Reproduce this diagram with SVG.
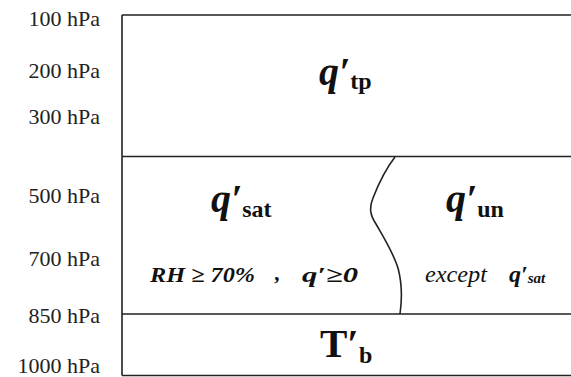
<svg xmlns="http://www.w3.org/2000/svg" width="571" height="377" viewBox="0 0 571 377" font-family="Liberation Serif">
<rect width="571" height="377" fill="#fff"/>
<g id="axis" fill="#222">
<text font-family="Liberation Serif" font-size="22" text-anchor="end" x="100" y="26">100 hPa</text>
<text font-family="Liberation Serif" font-size="22" text-anchor="end" x="100" y="78">200 hPa</text>
<text font-family="Liberation Serif" font-size="22" text-anchor="end" x="100" y="124">300 hPa</text>
<text font-family="Liberation Serif" font-size="22" text-anchor="end" x="100" y="203">500 hPa</text>
<text font-family="Liberation Serif" font-size="22" text-anchor="end" x="100" y="266">700 hPa</text>
<text font-family="Liberation Serif" font-size="22" text-anchor="end" x="100" y="323">850 hPa</text>
<text font-family="Liberation Serif" font-size="22" text-anchor="end" x="100" y="373">1000 hPa</text>
</g>
<g id="connectors" stroke="#222" stroke-width="1.6" fill="none">
<path d="M122,15 H571 M122,156.5 H571 M122,314 H571 M122,375.5 H571 M122,15 V375.5"/>
<path d="M395,157 C388,166 380,180 373,198 C369,208 370,215 376,224 C384,238 393,252 398,268 C402,283 402,300 400,314"/>
</g>
<g id="tp" fill="#111">
<text font-family="Liberation Serif" font-weight="bold" x="319" y="85"><tspan font-style="italic" font-size="40">q′</tspan><tspan font-size="24" dy="4">tp</tspan></text>
</g>
<g id="sat" fill="#111">
<text font-family="Liberation Serif" font-weight="bold" x="211" y="212"><tspan font-style="italic" font-size="40">q′</tspan><tspan font-size="24" dy="5">sat</tspan></text>
<text font-family="Liberation Serif" font-weight="bold" font-style="italic" font-size="22" x="150" y="282" textLength="105" lengthAdjust="spacingAndGlyphs">RH ≥ 70%</text>
<text font-family="Liberation Serif" font-weight="bold" font-style="italic" font-size="22" x="275" y="280">,</text>
<text font-family="Liberation Serif" font-weight="bold" font-style="italic" font-size="22" x="302" y="282" textLength="56" lengthAdjust="spacingAndGlyphs">q′≥0</text>
</g>
<g id="un" fill="#111">
<text font-family="Liberation Serif" font-weight="bold" x="446" y="212"><tspan font-style="italic" font-size="40">q′</tspan><tspan font-size="24" dy="5">un</tspan></text>
<text font-family="Liberation Serif" font-style="italic" font-size="24" x="425" y="282" textLength="62" lengthAdjust="spacingAndGlyphs">except</text>
<text font-family="Liberation Serif" font-weight="bold" font-style="italic" x="509" y="282"><tspan font-size="24">q′</tspan><tspan font-size="15" dy="1">sat</tspan></text>
</g>
<g id="tb" fill="#111">
<text font-family="Liberation Serif" font-weight="bold" x="320" y="357"><tspan font-size="41">T′</tspan><tspan font-size="24" dy="6">b</tspan></text>
</g>
</svg>
